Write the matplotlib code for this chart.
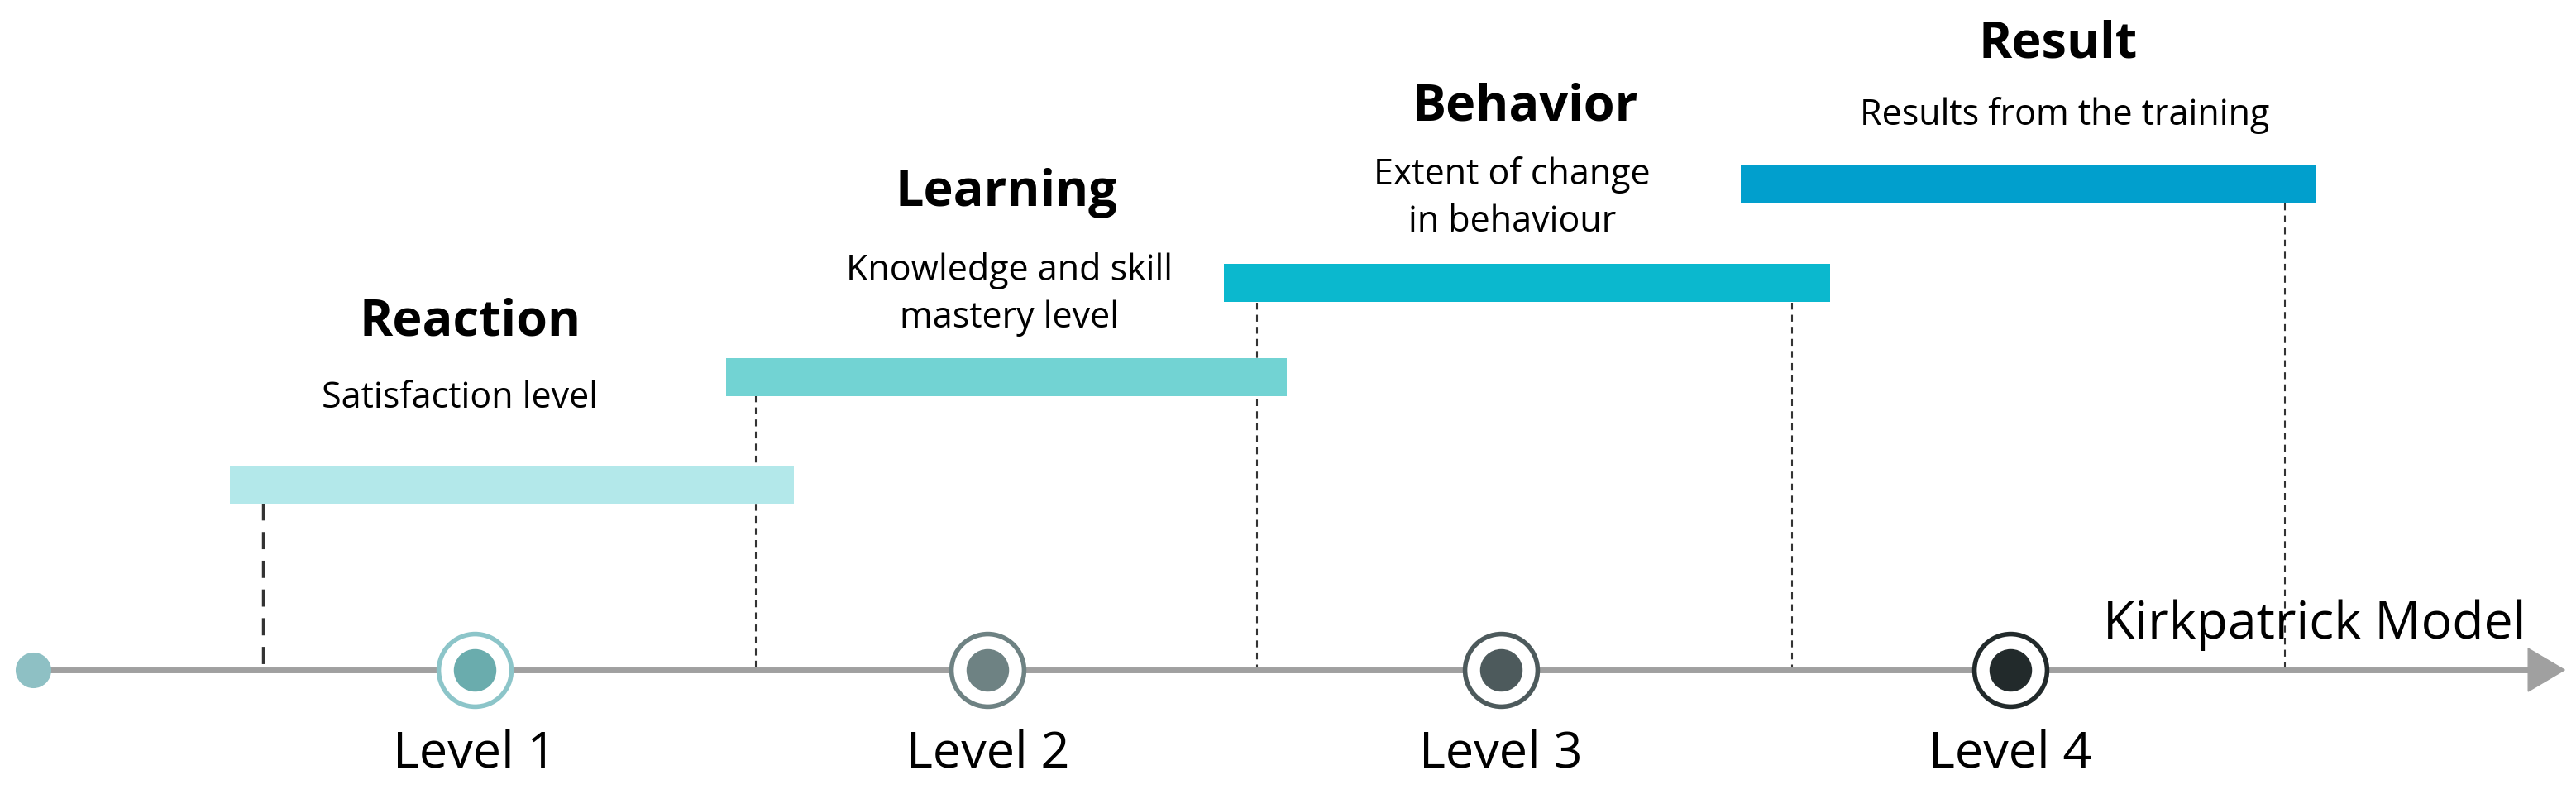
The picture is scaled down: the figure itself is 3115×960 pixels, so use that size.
import matplotlib.pyplot as plt
from matplotlib.patches import FancyArrow

# layout in half-scale pixel units (display 1557 x 480)
level_labels = ['Level 1', 'Level 2', 'Level 3', 'Level 4']
level_x = [287, 597, 907, 1215]
ring_colors = ['#8cc5c9', '#6e8283', '#4d5a5c', '#222a2b']
dot_colors = ['#6aacad', '#6e8283', '#4d5a5c', '#222a2b']

titles = ['Reaction', 'Learning', 'Behavior', 'Result']
subtitles = ['Satisfaction level', 'Knowledge and skill\nmastery level',
             'Extent of change\nin behaviour', 'Results from the training']
bar_start = [139, 439, 740, 1052]
bar_end = [480, 778, 1106, 1400]
bar_y = [293, 228, 171, 111]
bar_colors = ['#b3e8ea', '#72d3d3', '#0bb8ce', '#019fcd']
title_pos = [(284, 195), (608, 117), (922, 65), (1244, 27)]
sub_pos = [(278, 241), (610, 178), (914, 120), (1248, 70)]
dash_x = [159, 457, 760, 1083, 1381]
dash_top = [304, 239, 183, 183, 123]

AXIS_Y = 405

fig = plt.figure(figsize=(31.15, 9.6), dpi=100)
ax = fig.add_axes([0, 0, 1, 1])
ax.set_xlim(0, 1557)
ax.set_ylim(480, 0)
ax.axis('off')

# main axis with arrow
ax.plot([20, 1530], [AXIS_Y, AXIS_Y], color='#a0a0a0', lw=5, zorder=1)
ax.add_patch(FancyArrow(1528, AXIS_Y, 0.1, 0, width=0, head_width=26, head_length=22,
                        color='#a0a0a0', length_includes_head=False, zorder=1))
ax.scatter([20], [AXIS_Y], s=900, color='#8ec0c4', zorder=3)
ax.text(1527, 378, 'Kirkpatrick Model', ha='right', va='center', fontsize=45, family='Open Sans')

for i, x in enumerate(dash_x):
    lw, ls = (2.5, (0, (6, 4))) if i == 0 else (1.5, (0, (4, 3)))
    ax.plot([x, x], [dash_top[i], AXIS_Y], color='#333333', lw=lw, linestyle=ls, zorder=0)

for i in range(4):
    ax.barh(bar_y[i], bar_end[i] - bar_start[i], left=bar_start[i], height=23,
            color=bar_colors[i], zorder=2)
    ax.text(*title_pos[i], titles[i], ha='center', va='center', fontsize=44,
            fontweight='bold', family='Open Sans')
    ax.text(*sub_pos[i], subtitles[i], ha='center', va='center', fontsize=31,
            family='Open Sans', linespacing=1.35)
    ax.scatter([level_x[i]], [AXIS_Y], s=4000, facecolor='white', edgecolor=ring_colors[i],
               linewidth=4, zorder=3)
    ax.scatter([level_x[i]], [AXIS_Y], s=1300, color=dot_colors[i], zorder=4)
    ax.text(level_x[i], 456, level_labels[i], ha='center', va='center', fontsize=44,
            family='Open Sans')

fig.savefig('out.png', dpi=100)
